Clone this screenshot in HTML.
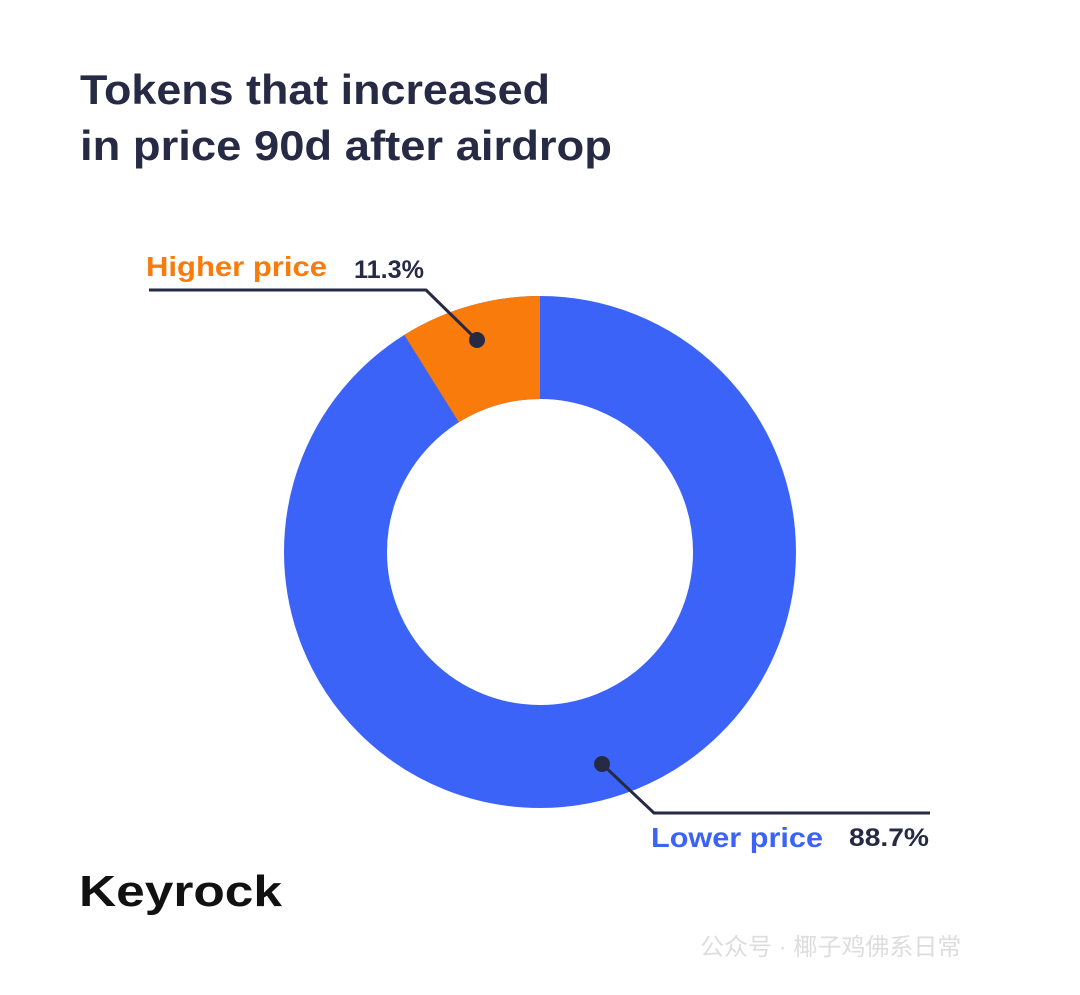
<!DOCTYPE html><html><head><style>
body{margin:0;width:1080px;height:990px;background:#fff;overflow:hidden;font-family:"Liberation Sans",sans-serif}
</style></head><body>
<svg width="1080" height="990" viewBox="0 0 1080 990" xmlns="http://www.w3.org/2000/svg">
<text x="80" y="104" font-size="42" font-weight="bold" fill="#272a45" textLength="470" lengthAdjust="spacingAndGlyphs">Tokens that increased</text>
<text x="80" y="160" font-size="42" font-weight="bold" fill="#272a45" textLength="532" lengthAdjust="spacingAndGlyphs">in price 90d after airdrop</text>
<circle cx="540" cy="552" r="204.5" fill="none" stroke="#3b63f7" stroke-width="103"/>
<path d="M540 296 A256 256 0 0 0 404.3 334.9 L458.9 422.3 A153 153 0 0 1 540 399 Z" fill="#f97b0b"/>
<polyline points="149,290 426,290 477,340" fill="none" stroke="#272a45" stroke-width="3"/>
<circle cx="477" cy="340" r="8" fill="#272a45"/>
<polyline points="602,764 654,813 930,813" fill="none" stroke="#272a45" stroke-width="3"/>
<circle cx="602" cy="764" r="8" fill="#272a45"/>
<text x="146" y="276" font-size="28" font-weight="bold" fill="#f97b0b" textLength="181" lengthAdjust="spacingAndGlyphs">Higher price</text>
<text x="354" y="278" font-size="25" font-weight="bold" fill="#272a45" textLength="70" lengthAdjust="spacingAndGlyphs">11.3%</text>
<text x="651" y="847" font-size="28" font-weight="bold" fill="#3b63f7" textLength="172" lengthAdjust="spacingAndGlyphs">Lower price</text>
<text x="849" y="846" font-size="25" font-weight="bold" fill="#272a45" textLength="80" lengthAdjust="spacingAndGlyphs">88.7%</text>
<text x="79" y="906" font-size="44" font-weight="bold" fill="#111" textLength="203" lengthAdjust="spacingAndGlyphs">Keyrock</text>
<text x="700" y="955" font-size="24" fill="#ddd">公众号 · 椰子鸡佛系日常</text>
</svg>
</body></html>
